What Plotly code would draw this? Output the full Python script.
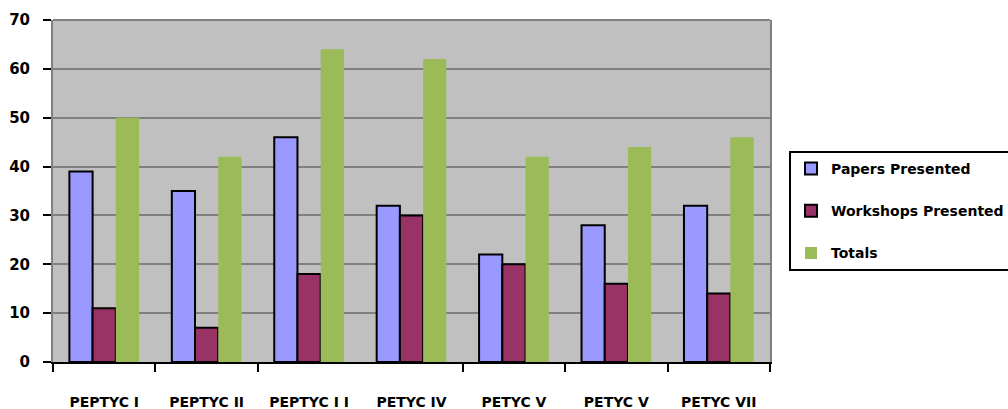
import plotly.graph_objects as go

# Conference editions and counts per edition
editions = ["PEPTYC I", "PEPTYC II", "PEPTYC I I", "PETYC IV", "PETYC V", "PETYC V", "PETYC VII"]
papers = [39, 35, 46, 32, 22, 28, 32]
workshops = [11, 7, 18, 30, 20, 16, 14]
totals = [50, 42, 64, 62, 42, 44, 46]
y_ticks = [0, 10, 20, 30, 40, 50, 60, 70]

positions = list(range(len(editions)))
font_family = "DejaVu Sans"

fig = go.Figure()
fig.add_trace(go.Bar(
    x=positions, y=papers, name="<b>Papers Presented</b>", legendgroup="a",
    marker=dict(color="#9999FF", line=dict(color="black", width=2)),
))
fig.add_trace(go.Bar(
    x=positions, y=workshops, name="<b>Workshops Presented</b>", legendgroup="b",
    marker=dict(color="#993366", line=dict(color="black", width=2)),
))
fig.add_trace(go.Bar(
    x=positions, y=totals, name="<b>Totals</b>", legendgroup="c",
    marker=dict(color="#9BBB59", line=dict(width=0)),
))

# boundaries between editions get tick marks (one is left out, as on the chart)
boundaries = [p - 0.5 for p in positions] + [len(positions) - 0.5]
boundaries = [b for b in boundaries if b != 3 - 0.5]

fig.update_layout(
    width=1008, height=409,
    margin=dict(l=53, r=238, t=20, b=47, autoexpand=False),
    paper_bgcolor="white",
    plot_bgcolor="#C0C0C0",
    barmode="group",
    bargap=0.32,
    bargroupgap=0,
    font=dict(family=font_family, size=14, color="black"),
    showlegend=True,
    legend=dict(
        x=1.0265, xanchor="left", y=0.617, yanchor="top",
        bordercolor="black", borderwidth=2, bgcolor="white",
        font=dict(family=font_family, size=14, color="black"),
        tracegroupgap=21, traceorder="grouped", itemwidth=30,
    ),
    xaxis=dict(
        range=[-0.5, len(positions) - 0.5],
        tickmode="array", tickvals=positions,
        ticktext=[f"<b>{e}</b>" for e in editions],
        ticks="", showgrid=False,
        showline=True, linecolor="black", linewidth=2,
        ticklabelstandoff=26,
        tickfont=dict(family=font_family, size=14),
        minor=dict(tickmode="array", tickvals=boundaries, ticks="outside",
                   ticklen=8, tickwidth=2, tickcolor="black", showgrid=False),
        zeroline=False, automargin=False,
    ),
    yaxis=dict(
        range=[0, 70],
        tickmode="array", tickvals=y_ticks,
        ticktext=[f"<b>{v}</b>" for v in y_ticks],
        ticks="outside", ticklen=8, tickwidth=2, tickcolor="black",
        showgrid=True, gridcolor="#808080", gridwidth=1.5,
        showline=True, linecolor="#808080", linewidth=2, mirror=True,
        ticklabelstandoff=10,
        tickfont=dict(family=font_family, size=15),
        zeroline=False, automargin=False,
    ),
    shapes=[dict(type="line", xref="paper", yref="paper", x0=0, x1=1, y0=1, y1=1,
                 line=dict(color="#808080", width=2))],
)

fig.write_html("out.html")
